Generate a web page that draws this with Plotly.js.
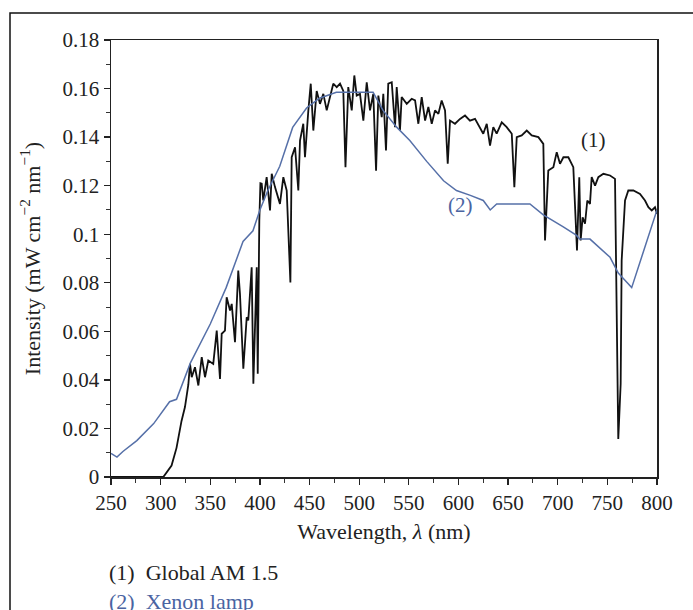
<!DOCTYPE html>
<html>
<head>
<meta charset="utf-8">
<script src="https://cdn.plot.ly/plotly-3.0.1.min.js"></script>
<style>
  html, body { margin: 0; padding: 0; background: #ffffff; }
  #chart { width: 693px; height: 610px; }
</style>
</head>
<body>
<div id="chart"></div>
<script>
// Global AM 1.5 spectrum (curve 1)
const globalWavelength = [
  250, 300, 302.7, 311, 316, 321, 324.5, 327.9, 329.6, 331.3, 334.6, 338, 341.4, 344.7, 348, 353,
  356.5, 359.8, 361.5, 364.8, 366.5, 369.9, 371.6, 374.9, 378.2, 379.9, 383.3, 386.7, 388.3, 391.7,
  393.4, 396.8, 397.8, 399.4, 400.5, 401.8, 403.4, 406.8, 410.2, 411.9, 415.2, 420.2, 423.6, 427,
  430.7, 432, 435.4, 438.7, 440.4, 443.7, 445.4, 448.8, 451.2, 453.8, 457.2, 460.5, 463.9, 467.3,
  470.6, 473.9, 477.4, 480.7, 484, 486.2, 489, 492.5, 495.1, 497.5, 500.8, 504.2, 507.6, 510.9,
  514.2, 517, 519.3, 522.7, 524.3, 527, 529.3, 532.8, 536.1, 537.8, 541.1, 542.8, 547.9, 552.9,
  556.3, 559.6, 563, 566.4, 569.7, 573.1, 576.4, 579.8, 583.1, 586.5, 589.2, 591.5, 596.5, 601.6,
  606.6, 611.6, 616.7, 621.7, 625, 628.5, 631.8, 635.1, 638.5, 643.6, 648.6, 653.7, 656.3, 658.7,
  663.7, 668.8, 673.8, 680.5, 685.5, 687.2, 690.5, 695.6, 699, 702.3, 705.7, 710.7, 715.7, 719.4,
  721.7, 723.1, 725.1, 727.5, 729.8, 732.5, 734.2, 737.6, 740.9, 746, 752.7, 757.7, 759.4, 761,
  763.4, 764.4, 767.8, 771.1, 776.2, 782.9, 787.9, 791.3, 794.7, 798, 800
];
const globalIntensity = [
  0, 0, 0, 0.0047, 0.012, 0.023, 0.0288, 0.038, 0.0466, 0.0411, 0.0452, 0.0377, 0.0494, 0.0411, 0.048, 0.0466,
  0.0603, 0.0404, 0.059, 0.0603, 0.074, 0.0686, 0.0713, 0.0555, 0.085, 0.0755, 0.0446, 0.0658, 0.0645, 0.0864,
  0.0384, 0.0864, 0.0425, 0.1056, 0.121, 0.1208, 0.1139, 0.1235, 0.1098, 0.1249, 0.1194, 0.1125, 0.1235, 0.118,
  0.0801, 0.1317, 0.1358, 0.118, 0.1386, 0.1455, 0.1317, 0.151, 0.162, 0.1427, 0.159, 0.1537, 0.1578, 0.151,
  0.1565, 0.162, 0.1606, 0.162, 0.159, 0.1276, 0.1606, 0.151, 0.1654, 0.1571, 0.1578, 0.1468, 0.1626, 0.151,
  0.1578, 0.1262, 0.1571, 0.1482, 0.1578, 0.1345, 0.162, 0.1626, 0.1441, 0.1606, 0.1427, 0.1565, 0.1537, 0.1558,
  0.1551, 0.1455, 0.1565, 0.1468, 0.1524, 0.1455, 0.151, 0.1496, 0.1551, 0.151, 0.129, 0.1468, 0.1455, 0.1475,
  0.1489, 0.1468, 0.1475, 0.1441, 0.1414, 0.1455, 0.1365, 0.1441, 0.1414, 0.1461, 0.1441, 0.1414, 0.1194, 0.14,
  0.1407, 0.1427, 0.1407, 0.14, 0.1372, 0.0974, 0.1262, 0.1276, 0.1338, 0.129, 0.1317, 0.1317, 0.1276, 0.0933,
  0.1235, 0.0974, 0.107, 0.1043, 0.1139, 0.1125, 0.1235, 0.12, 0.1235, 0.1249, 0.1242, 0.1228, 0.0686, 0.0157,
  0.0384, 0.0892, 0.1139, 0.118, 0.118, 0.1166, 0.1139, 0.1111, 0.1098, 0.1111, 0.1084
];

// Xenon lamp spectrum (curve 2)
const xenonWavelength = [
  250, 256, 262, 276, 293, 309, 316, 330, 350, 366, 383, 393, 400, 408, 420, 433, 447, 460, 477, 514,
  524, 538, 551, 568, 585, 598, 612, 625, 632, 638.5, 672, 685.5, 705.6, 719, 722, 732.5, 752.7, 761,
  774.5, 800
];
const xenonIntensity = [
  0.0097, 0.0082, 0.0105, 0.015, 0.022, 0.031, 0.032, 0.047, 0.063, 0.078, 0.097, 0.1014, 0.110, 0.118,
  0.128, 0.144, 0.152, 0.156, 0.1585, 0.1585, 0.151, 0.144, 0.1386, 0.130, 0.122, 0.118, 0.116, 0.1139,
  0.110, 0.1125, 0.1125, 0.108, 0.103, 0.0995, 0.098, 0.098, 0.0905, 0.084, 0.078, 0.110
];

const xTickVals = [250, 300, 350, 400, 450, 500, 550, 600, 650, 700, 750, 800];
const xTickText = ["250", "300", "350", "400", "450", "500", "550", "600", "650", "700", "750", "800"];
const yTickVals = [0, 0.02, 0.04, 0.06, 0.08, 0.1, 0.12, 0.14, 0.16, 0.18];
const yTickText = ["0", "0.02", "0.04", "0.06", "0.08", "0.1", "0.12", "0.14", "0.16", "0.18"];

const seriesLabels = ["(1)", "(2)"];
const legendLines = ["(1)\u2002Global AM 1.5", "(2)\u2002Xenon lamp"];

const FONT = "Liberation Serif";
const BLUE = "#5670a8";
const BLUE_TEXT = "#4a64a2";
const INK = "#222222";

const traces = [
  {
    x: globalWavelength, y: globalIntensity, type: "scatter", mode: "lines",
    line: { color: "#111111", width: 1.8 }, name: "Global AM 1.5", hoverinfo: "x+y"
  },
  {
    x: xenonWavelength, y: xenonIntensity, type: "scatter", mode: "lines",
    line: { color: BLUE, width: 1.5 }, name: "Xenon lamp", hoverinfo: "x+y"
  }
];

// plot area in pixels: 111..657 x 40..477
const L = 111, R = 657, T = 40, B = 477;
const px2paperX = p => (p - L) / (R - L);
const px2paperY = p => (B - p) / (B - T);

const layout = {
  width: 693, height: 610,
  margin: { l: L, r: 693 - R, t: T, b: 610 - B },
  paper_bgcolor: "#ffffff", plot_bgcolor: "#ffffff",
  showlegend: false,
  font: { family: FONT, size: 21, color: INK },
  xaxis: {
    range: [250, 800], tickvals: xTickVals, ticktext: xTickText,
    ticks: "outside", ticklen: 6, tickwidth: 1.3, tickcolor: INK,
    minor: { dtick: 25, tick0: 250, ticks: "outside", ticklen: 4, tickwidth: 1, tickcolor: "#333" },
    showline: true, linecolor: INK, linewidth: 1.5, mirror: true,
    showgrid: false, zeroline: false,
    tickfont: { family: FONT, size: 21, color: INK },
    title: { text: "Wavelength, <i>λ</i> (nm)", font: { family: FONT, size: 22, color: INK }, standoff: 10 }
  },
  yaxis: {
    range: [0, 0.18], tickvals: yTickVals, ticktext: yTickText,
    ticks: "outside", ticklen: 6, tickwidth: 1.3, tickcolor: INK,
    minor: { dtick: 0.01, tick0: 0, ticks: "outside", ticklen: 4, tickwidth: 1, tickcolor: "#333" },
    showline: true, linecolor: INK, linewidth: 1.5, mirror: true,
    showgrid: false, zeroline: false,
    tickfont: { family: FONT, size: 21, color: INK },
    title: { text: "Intensity (mW cm<sup>−2</sup> nm<sup>−1</sup>)", font: { family: FONT, size: 22, color: INK }, standoff: 16 }
  },
  shapes: [
    {
      type: "rect", xref: "paper", yref: "paper",
      x0: px2paperX(10), x1: px2paperX(720), y0: px2paperY(640), y1: px2paperY(13),
      line: { color: "#111", width: 1.5 }, fillcolor: "rgba(0,0,0,0)", layer: "below"
    }
  ],
  annotations: [
    { xref: "paper", yref: "paper", x: px2paperX(593), y: px2paperY(140), xanchor: "center", yanchor: "middle", text: seriesLabels[0],
      showarrow: false, font: { family: FONT, size: 21, color: INK } },
    { xref: "paper", yref: "paper", x: px2paperX(460), y: px2paperY(205), xanchor: "center", yanchor: "middle", text: seriesLabels[1],
      showarrow: false, font: { family: FONT, size: 21, color: BLUE_TEXT } },
    { xref: "paper", yref: "paper", x: px2paperX(107), y: px2paperY(572), xanchor: "left", yanchor: "middle", text: legendLines[0],
      showarrow: false, font: { family: FONT, size: 22, color: INK } },
    { xref: "paper", yref: "paper", x: px2paperX(107), y: px2paperY(601), xanchor: "left", yanchor: "middle", text: legendLines[1],
      showarrow: false, font: { family: FONT, size: 22, color: BLUE_TEXT } }
  ]
};

Plotly.newPlot("chart", traces, layout, { displayModeBar: false, staticPlot: true });
</script>
</body>
</html>
